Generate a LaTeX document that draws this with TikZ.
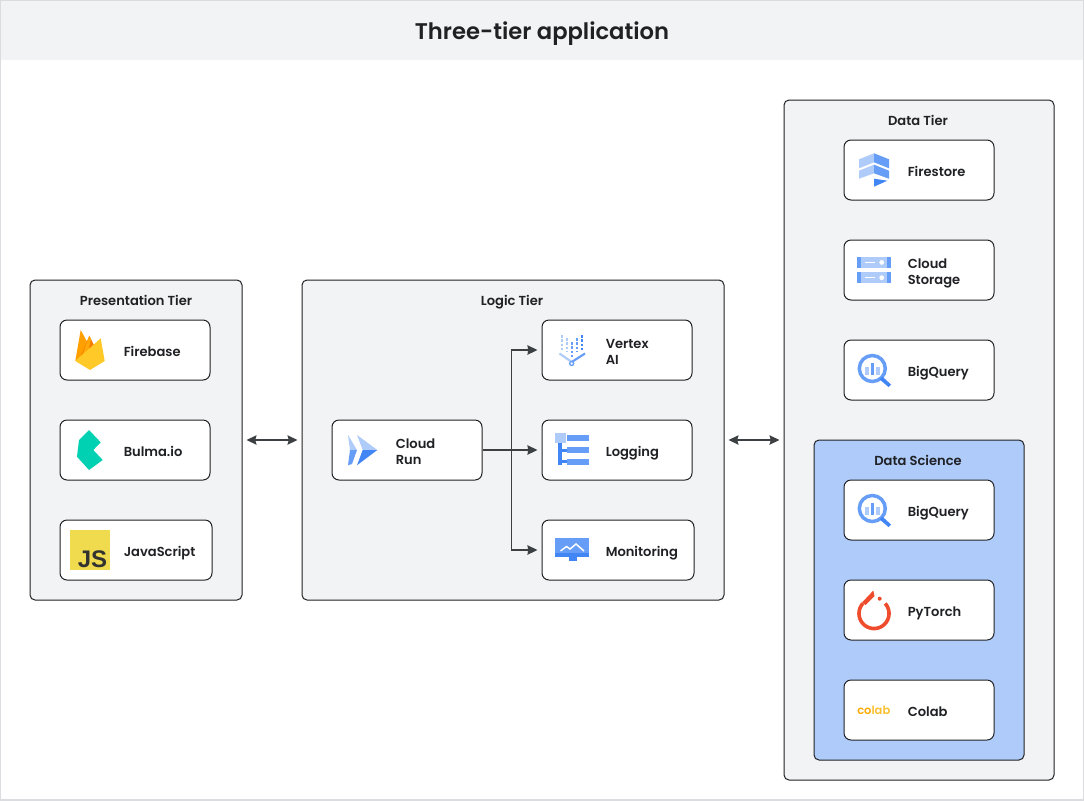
\documentclass[tikz,border=0pt]{standalone}
\usepackage{fontspec}
\setmainfont{Poppins}[UprightFont=* SemiBold]
\newfontfamily\jsfont{Liberation Sans}
\usetikzlibrary{arrows.meta,calc}
\definecolor{ink}{HTML}{202124}
\definecolor{panel}{HTML}{F1F3F4}
\definecolor{frame}{HTML}{DADCE0}
\definecolor{gl}{HTML}{AECBFA}
\definecolor{gm}{HTML}{669DF6}
\definecolor{gd}{HTML}{4285F4}
\definecolor{arrowc}{HTML}{3C4043}
\definecolor{fba}{HTML}{FFA000}
\definecolor{fbb}{HTML}{F57C00}
\definecolor{fbc}{HTML}{FFCA28}
\definecolor{bulmac}{HTML}{00D1B2}
\definecolor{jsy}{HTML}{F0DB4F}
\definecolor{jsk}{HTML}{323330}
\definecolor{torchc}{HTML}{EE4C2C}
\definecolor{colaba}{HTML}{F9AB00}
\definecolor{colabb}{HTML}{FBC02D}
\tikzset{
  x=0.75pt,y=-0.75pt,
  tier/.style={draw=ink,line width=0.75pt,fill=#1,rounded corners=3.75pt,inner sep=0pt},
  appbox/.style={draw=ink,line width=0.75pt,fill=white,rounded corners=5.25pt,inner sep=0pt,minimum height=45pt},
  lbl/.style={anchor=west,inner sep=0pt,font=\fontsize{9.8}{12}\selectfont,text=ink,align=left},
  tierlbl/.style={inner sep=0pt,font=\fontsize{9.8}{12}\selectfont,text=ink},
  link/.style={draw=arrowc,line width=1.1pt,shorten >=3pt,-{Stealth[length=7.5pt,width=7pt,inset=0.5pt]}},
  duplex/.style={draw=arrowc,line width=1.1pt,shorten >=3pt,shorten <=3pt,{Stealth[length=7.5pt,width=7pt,inset=1pt]}-{Stealth[length=7.5pt,width=7pt,inset=1pt]}},
}
% name, centre x, centre y, width px, text
\newcommand{\appnode}[5]{%
  \node[appbox,minimum width=#4*0.75pt] (#1) at (#2,#3) {};
  \node[lbl] (#1t) at ($(#1.west)+(64,2.8)$) {#5};}
\newcommand{\bqicon}[1]{%
 \begin{scope}[shift={(0,#1)}]
  \fill[gl] (865,366.5) rectangle (869,375.2);
  \fill[gm] (870.7,363) rectangle (874.3,375.2);
  \fill[gl] (876.2,366.5) rectangle (880,375.2);
  \draw[gm,line width=2.6pt] (872.3,368.5) circle [radius=9.75pt];
  \fill[gd] (879.7,379.5) -- (882.5,376.7) -- (891,384.5) -- (888.5,387) -- cycle;
 \end{scope}}
\begin{document}
\begin{tikzpicture}
\useasboundingbox (0,0) rectangle (1084,800);
\fill[white] (0,0) rectangle (1084,800);
\fill[panel] (0,0) rectangle (1084,60);
\draw[frame,line width=1.5pt] (0,0) rectangle (1084,800);
\node[inner sep=0pt,font=\fontsize{17}{21}\selectfont,text=ink] (title) at (542,34) {Three-tier application};

% tiers
\node[tier=panel,minimum width=159pt,minimum height=240pt] (pres) at (136,440) {};
\node[tier=panel,minimum width=316.5pt,minimum height=240pt] (logic) at (513,440) {};
\node[tier=panel,minimum width=202.5pt,minimum height=510pt] (data) at (919,440) {};
\node[tier=gl,minimum width=157.5pt,minimum height=240pt] (sci) at (919,600) {};
\node[tierlbl] (prest) at (136,301.8) {\strut Presentation Tier};
\node[tierlbl] (logict) at (512,301.8) {\strut Logic Tier};
\node[tierlbl] (datat) at (918,121.8) {\strut Data Tier};
\node[tierlbl] (scit) at (918,461.8) {\strut Data Science};

% boxes
\appnode{firebase}{135}{350}{150}{\strut Firebase}
\appnode{bulma}{135}{450}{150}{\strut Bulma.io}
\appnode{js}{136}{550}{152}{\strut JavaScript}
\appnode{run}{407}{450}{150}{\strut Cloud\\\strut Run}
\appnode{vertex}{617}{350}{150}{\strut Vertex\\\strut AI}
\appnode{logging}{617}{450}{150}{\strut Logging}
\appnode{monitoring}{618}{550}{152}{\strut Monitoring}
\appnode{firestore}{919}{170}{150}{\strut Firestore}
\appnode{storage}{919}{270}{150}{\strut Cloud\\\strut Storage}
\appnode{bq}{919}{370}{150}{\strut BigQuery}
\appnode{bqs}{919}{510}{150}{\strut BigQuery}
\appnode{torch}{919}{610}{150}{\strut PyTorch}
\appnode{colab}{919}{710}{150}{\strut Colab}

% connectors
\draw[duplex] (pres.east) -- (logic.west);
\draw[duplex] (logic.east) -- (data.west);
\coordinate (bus) at (511.7,450);
\draw[link] (run.east) -- (logging.west);
\draw[link] (bus) |- (vertex.west);
\draw[link] (bus) |- (monitoring.west);

% Firebase logo
\fill[fba] (75.3,361) -- (80.7,330) -- (90.5,348) -- cycle;
\fill[fbb] (80.5,357) -- (89.3,335.7) -- (95,347) -- cycle;
\fill[fba!80!fbc] (82,356) -- (89.3,335.7) -- (91,339) -- (88,352) -- cycle;
\fill[fbc] (75.3,361) -- (100.7,338.3) -- (104.7,361) -- (90,370) -- cycle;
% Bulma logo
\fill[bulmac] (89,430) -- (100.7,442.3) -- (93.3,450) -- (102.7,460) -- (89,470) -- (77,456.7) -- (79,440) -- cycle;
% JS logo
\node[fill=jsy,minimum size=30pt,inner sep=0pt] (jslogo) at (90,550) {};
\node[inner sep=0pt,font=\jsfont\fontsize{18}{18}\selectfont\bfseries,text=jsk,anchor=base east] (jsmark) at (107.5,567) {JS};

% Cloud Run logo
\fill[gl] (348,435) -- (357,450) -- (350,450) -- cycle;
\fill[gm] (350,450) -- (357,450) -- (352,464) -- (348,465.3) -- cycle;
\fill[gl] (357,435) -- (377.3,450) -- (362.7,450) -- cycle;
\fill[gd] (362.7,450) -- (377.3,450) -- (357,465.3) -- cycle;

% Vertex AI logo
\begin{scope}[line width=1.6pt,dash pattern=on 2pt off 1.2pt]
\draw[gl] (561.7,335) -- (561.7,350);
\draw[gl] (566.7,338) -- (566.7,352);
\draw[gm] (571.7,342) -- (571.7,358);
\draw[gm] (576.7,338) -- (576.7,352);
\draw[gd] (581.7,335) -- (581.7,350);
\end{scope}
\draw[gl,line width=1.6pt] (559.5,353.5) -- (571.7,362);
\draw[gm,line width=1.6pt] (571.7,362) -- (585,353.5);
\draw[gm,line width=1pt,fill=white] (571.7,363.5) circle [radius=1.5pt];

% Logging logo
\fill[gl] (555,433.3) rectangle (565.7,443.3);
\fill[gd] (558.3,443.3) rectangle (561.7,464.7);
\fill[gd] (561.7,448.5) rectangle (567,451.5);
\fill[gd] (561.7,460) rectangle (567,463);
\fill[gm] (567,435) rectangle (589,441);
\fill[gm] (567,447) rectangle (589,453);
\fill[gm] (567,458.7) rectangle (589,464.7);

% Monitoring logo
\fill[gm] (555,538.3) rectangle (589,553.3);
\fill[gd] (555,553.3) rectangle (589,557.3);
\fill[gd] (568.5,557.3) rectangle (576.5,560.5);
\draw[white,line width=1.1pt] (560.5,551) -- (566.5,546.5) -- (570,549) -- (576,544) -- (584,551);

% Firestore logo
\fill[gl] (859,159.3) -- (874,153.3) -- (874,162.3) -- (859,168.3) -- cycle;
\fill[gm] (874,153.3) -- (889,159.3) -- (889,168.3) -- (874,162.3) -- cycle;
\fill[gl] (859,170.7) -- (874,164.7) -- (874,173.3) -- (859,178.7) -- cycle;
\fill[gm] (874,164.7) -- (889,170.7) -- (889,178.7) -- (874,173.3) -- cycle;
\fill[gd] (874,178.7) -- (887.3,180.7) -- (874,186.7) -- cycle;

% Cloud Storage logo
\foreach \yy in {256.7,272} {
  \fill[gl] (857,\yy) rectangle (891,\yy+11.3);
  \fill[gm] (857,\yy) rectangle (861,\yy+11.3);
  \fill[gm] (887,\yy) rectangle (891,\yy+11.3);
  \draw[white,line width=0.75pt] (864.5,\yy+5.7) -- (875,\yy+5.7);
  \fill[white] (881.7,\yy+5.7) circle [radius=1.8pt];
}

% BigQuery logos
\bqicon{0}
\bqicon{140}

% PyTorch logo
\draw[torchc,line width=2.7pt] plot[domain=-42:222,samples=50] ({874+15*cos(\x)},{613.5+15*sin(\x)});
\fill[torchc] (873.3,590.5) -- (874.5,596) -- (865.5,605) -- (862,602.5) -- cycle;
\fill[torchc] (879.7,598.7) circle [radius=1.5pt];

% Colab logo
\node[inner sep=0pt,font=\fontsize{8.6}{12}\selectfont,anchor=center] (colabmark) at (873.8,710) {\textcolor{colaba}{co}\textcolor{colabb}{lab}};
\end{tikzpicture}
\end{document}
